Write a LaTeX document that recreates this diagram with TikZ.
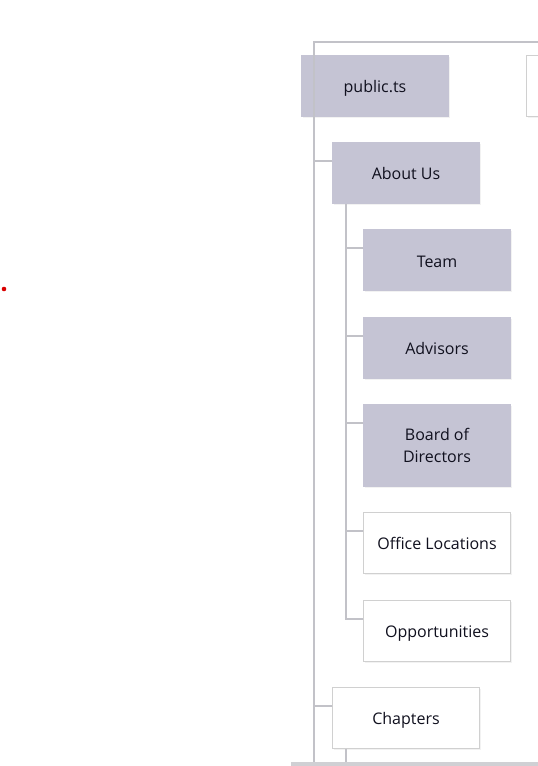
\documentclass[tikz,border=0pt]{standalone}
\usepackage{fontspec}
\setmainfont{Open Sans}
\usetikzlibrary{calc,shadows}
\definecolor{boxfill}{HTML}{C5C4D4}
\definecolor{linegray}{HTML}{C2C2C8}
\definecolor{edgegray}{HTML}{D0D0D0}
\definecolor{bargray}{HTML}{D0D0D4}
\definecolor{txt}{HTML}{10101E}

\begin{document}
\begin{tikzpicture}[x=1pt,y=-1pt,line join=miter,
  page/.style={draw=edgegray,line width=1pt,fill=white,minimum width=147pt,minimum height=61pt,
    align=center,text=txt,font=\fontsize{16}{22}\selectfont,text height=14.5pt,text depth=0pt,
    drop shadow={opacity=0.10,shadow xshift=1pt,shadow yshift=-1.5pt}},
  pagedone/.style={page,fill=boxfill,draw=boxfill},
  conn/.style={draw=linegray,line width=2pt}]
\useasboundingbox (0,0) rectangle (538,766);
\clip (0,0) rectangle (538,766);

% main trunk, drawn first so the boxes sit on it
\coordinate (top) at (314,42);
\coordinate (base) at (314,770);
\coordinate (edge) at (560,42);
\draw[conn] (edge) -- (top) -- (base);

% level 1
\node[pagedone] (public) at (375,85.5) {public.ts};
\node[page] (next) at (600,85.5) {};
\node[pagedone] (about) at (406,172.5) {About Us};
\node[page] (chapters) at (406,717.5) {Chapters};

% level 2 under About Us
\node[pagedone] (team) at (437,260) {Team};
\node[pagedone] (advisors) at (437,347.5) {Advisors};
\node[pagedone,minimum height=82pt,text height=,text depth=] (board) at (437,445) {Board of\\Directors};
\node[page] (office) at (437,542.5) {Office Locations};
\node[page] (opps) at (437,630.5) {Opportunities};

% stems
\coordinate (aboutstem) at ([xshift=14pt]about.south west);
\coordinate (chapstem) at ([xshift=14pt]chapters.south west);
\coordinate (chapend) at ($(chapstem)+(0,20)$);

% connectors
\foreach \n in {about,chapters}
  \draw[conn] ([yshift=-19pt]\n.north west) -| (top);
\foreach \n in {team,advisors,board,office,opps}
  \draw[conn] ([yshift=-19pt]\n.north west) -| (aboutstem);
\draw[conn] (chapstem) -- (chapend);

% bar at the bottom and the stray dot
\fill[bargray] (291,762) rectangle (545,770);
\fill[red!85!black] (4,289) circle (2.3pt);

\end{tikzpicture}
\end{document}
